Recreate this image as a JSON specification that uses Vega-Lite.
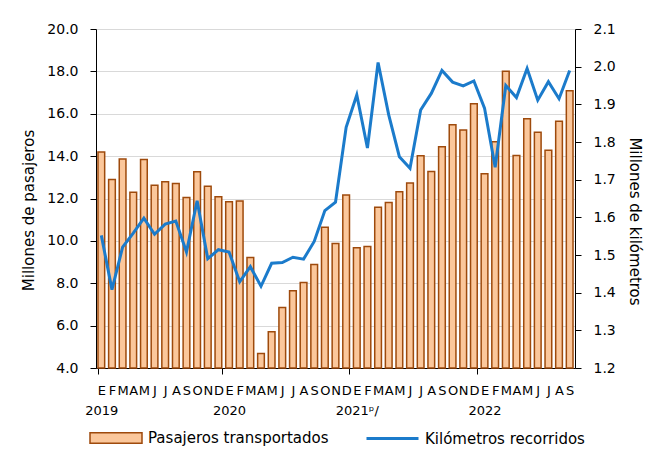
{
  "$schema": "https://vega.github.io/schema/vega-lite/v6.json",
  "width": 479,
  "height": 339,
  "autosize": {"type": "none"},
  "padding": {"left": 96, "top": 29, "right": 79, "bottom": 82},
  "background": "white",
  "config": {
    "view": {"stroke": null},
    "font": "DejaVu Sans",
    "axis": {
      "labelFont": "DejaVu Sans",
      "titleFont": "DejaVu Sans",
      "labelColor": "#000000",
      "titleColor": "#000000",
      "domainColor": "#000000",
      "tickColor": "#000000",
      "titleFontWeight": "normal",
      "labelFontSize": 14,
      "titleFontSize": 15
    },
    "legend": {
      "labelFont": "DejaVu Sans",
      "labelFontSize": 15,
      "labelColor": "#000000",
      "labelLimit": 400,
      "padding": 0
    }
  },
  "data": {
    "values": [
      {"mes": "2019-01", "pas": 14.2, "km": 1.552},
      {"mes": "2019-02", "pas": 12.9, "km": 1.408},
      {"mes": "2019-03", "pas": 13.87, "km": 1.521},
      {"mes": "2019-04", "pas": 12.3, "km": 1.558},
      {"mes": "2019-05", "pas": 13.84, "km": 1.598},
      {"mes": "2019-06", "pas": 12.62, "km": 1.555},
      {"mes": "2019-07", "pas": 12.79, "km": 1.582},
      {"mes": "2019-08", "pas": 12.71, "km": 1.59},
      {"mes": "2019-09", "pas": 12.05, "km": 1.508},
      {"mes": "2019-10", "pas": 13.26, "km": 1.644},
      {"mes": "2019-11", "pas": 12.58, "km": 1.49},
      {"mes": "2019-12", "pas": 12.08, "km": 1.514},
      {"mes": "2020-01", "pas": 11.85, "km": 1.508},
      {"mes": "2020-02", "pas": 11.88, "km": 1.429},
      {"mes": "2020-03", "pas": 9.22, "km": 1.469},
      {"mes": "2020-04", "pas": 4.68, "km": 1.417},
      {"mes": "2020-05", "pas": 5.71, "km": 1.478},
      {"mes": "2020-06", "pas": 6.85, "km": 1.48},
      {"mes": "2020-07", "pas": 7.65, "km": 1.494},
      {"mes": "2020-08", "pas": 8.03, "km": 1.489},
      {"mes": "2020-09", "pas": 8.89, "km": 1.536},
      {"mes": "2020-10", "pas": 10.64, "km": 1.618},
      {"mes": "2020-11", "pas": 9.88, "km": 1.64},
      {"mes": "2020-12", "pas": 12.16, "km": 1.839},
      {"mes": "2021-01", "pas": 9.68, "km": 1.925},
      {"mes": "2021-02", "pas": 9.74, "km": 1.784},
      {"mes": "2021-03", "pas": 11.59, "km": 2.011},
      {"mes": "2021-04", "pas": 11.81, "km": 1.872},
      {"mes": "2021-05", "pas": 12.32, "km": 1.761},
      {"mes": "2021-06", "pas": 12.73, "km": 1.73},
      {"mes": "2021-07", "pas": 14.02, "km": 1.885},
      {"mes": "2021-08", "pas": 13.28, "km": 1.929},
      {"mes": "2021-09", "pas": 14.44, "km": 1.99},
      {"mes": "2021-10", "pas": 15.48, "km": 1.959},
      {"mes": "2021-11", "pas": 15.23, "km": 1.949},
      {"mes": "2021-12", "pas": 16.47, "km": 1.962},
      {"mes": "2022-01", "pas": 13.17, "km": 1.89},
      {"mes": "2022-02", "pas": 14.68, "km": 1.733},
      {"mes": "2022-03", "pas": 18.01, "km": 1.95},
      {"mes": "2022-04", "pas": 14.03, "km": 1.918},
      {"mes": "2022-05", "pas": 15.76, "km": 1.995},
      {"mes": "2022-06", "pas": 15.13, "km": 1.911},
      {"mes": "2022-07", "pas": 14.28, "km": 1.96},
      {"mes": "2022-08", "pas": 15.65, "km": 1.915},
      {"mes": "2022-09", "pas": 17.08, "km": 1.99}
    ]
  },
  "layer": [
    {
      "mark": {"type": "bar", "stroke": "#9e4a0c", "strokeWidth": 1.5},
      "encoding": {
        "x": {
          "field": "mes",
          "type": "ordinal",
          "scale": {"paddingInner": 0.37, "paddingOuter": 0.185},
          "axis": {
            "title": null,
            "grid": false,
            "labelAngle": 0,
            "labelFontSize": 13,
            "labelLineHeight": 20,
            "labelPadding": 10,
            "labelBaseline": "top",
            "tickSize": 6,
            "tickBand": "extent",
            "tickOpacity": {"condition": {"test": "datum.extra || (isString(datum.value) && slice(datum.value,5,7)=='12')", "value": 1}, "value": 0},
            "labelOverlap": false,
            "labelBound": false,
            "labelFlush": false,
            "labelExpr": "!isString(datum.value) ? '' : slice(datum.value,5,7)=='01' ? ['E', (slice(datum.value,0,4)=='2021' ? '2021ᵖ/' : slice(datum.value,0,4))] : ['E','F','M','A','M','J','J','A','S','O','N','D'][toNumber(slice(datum.value,5,7))-1]"
          }
        },
        "y": {
          "field": "pas",
          "type": "quantitative",
          "stack": null,
          "scale": {"domain": [4, 20], "zero": false, "nice": false},
          "axis": {
            "title": "Millones de pasajeros",
            "values": [4, 6, 8, 10, 12, 14, 16, 18, 20],
            "format": ".1f",
            "grid": true,
            "gridColor": "#d9d9d9",
            "tickSize": 6,
            "labelPadding": 12,
            "titleAngle": -90,
            "titleAlign": "center",
            "titleBaseline": "alphabetic",
            "titleX": -63,
            "titleY": 181
          }
        },
        "fill": {
          "datum": "Pasajeros transportados",
          "type": "nominal",
          "scale": {"range": ["#fbc79b"]},
          "legend": {
            "orient": "none",
            "legendX": -7,
            "legendY": 382,
            "title": null,
            "symbolType": "M-1,-0.2H1V0.2H-1Z",
            "symbolSize": 2704,
            "symbolStrokeColor": "#9e4a0c",
            "symbolStrokeWidth": 1.5,
            "labelOffset": 5,
            "labelLimit": 400
          }
        }
      }
    },
    {
      "mark": {"type": "line", "strokeWidth": 3},
      "encoding": {
        "x": {"field": "mes", "type": "ordinal"},
        "y": {
          "field": "km",
          "type": "quantitative",
          "stack": null,
          "scale": {"domain": [1.2, 2.1], "zero": false, "nice": false},
          "axis": {
            "orient": "right",
            "title": "Millones de kilómetros",
            "values": [1.2, 1.3, 1.4, 1.5, 1.6, 1.7, 1.8, 1.9, 2.0, 2.1],
            "format": ".1f",
            "grid": false,
            "tickSize": 6,
            "labelPadding": 12,
            "titleAngle": 90,
            "titleAlign": "center",
            "titleBaseline": "alphabetic",
            "titleX": 54,
            "titleY": 192
          }
        },
        "stroke": {
          "datum": "Kilómetros recorridos",
          "type": "nominal",
          "scale": {"range": ["#1b7bcb"]},
          "legend": {
            "orient": "none",
            "legendX": 269,
            "legendY": 382,
            "title": null,
            "symbolType": "stroke",
            "symbolSize": 2704,
            "symbolStrokeWidth": 3,
            "labelOffset": 5,
            "labelLimit": 400
          }
        }
      }
    }
  ],
  "resolve": {"scale": {"y": "independent"}}
}
